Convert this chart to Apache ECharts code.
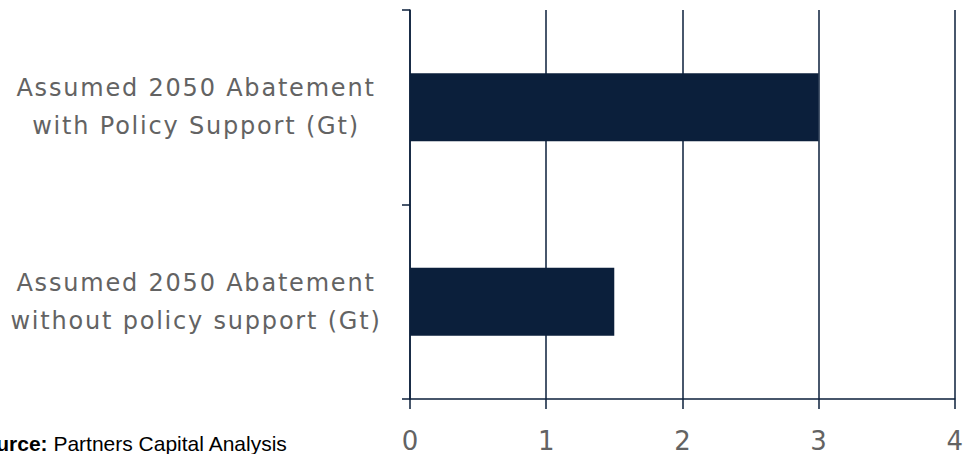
<!DOCTYPE html>
<html>
<head>
<meta charset="utf-8">
<script src="https://cdn.jsdelivr.net/npm/echarts@6/dist/echarts.min.js"></script>
<style>
  html, body { margin: 0; padding: 0; background: #ffffff; overflow: hidden; }
  #chart { width: 967px; height: 454px; }
  /* slightly open tracking for the category and tick labels */
  #chart svg text[style*="DejaVu Sans"] { letter-spacing: 1.8px; }
</style>
</head>
<body>
<div id="chart"></div>
<script>
// Abatement scenarios (Gt CO2e in 2050)
const categories = [
  'Assumed 2050 Abatement\nwith Policy Support (Gt)',
  'Assumed 2050 Abatement\nwithout policy support (Gt)'
];
const abatementValues = [3, 1.5];
const xTicks = { min: 0, max: 4, interval: 1 };
const sourceNote = { label: 'Source:', text: ' Partners Capital Analysis' };

const navy = '#0b1f3b';
const grey = '#636363';
const labelFont = 'DejaVu Sans';

const chart = echarts.init(document.getElementById('chart'), null, { renderer: 'svg' });

chart.setOption({
  animation: false,
  backgroundColor: '#ffffff',
  grid: { left: 410, right: 6, top: 10, bottom: 53, containLabel: false },
  xAxis: {
    type: 'value',
    min: xTicks.min,
    max: xTicks.max,
    interval: xTicks.interval,
    axisLine: { show: true, lineStyle: { color: navy, width: 1.5 } },
    axisTick: { show: true, length: 10, lineStyle: { color: navy, width: 1.5 } },
    splitLine: { show: true, lineStyle: { color: navy, width: 1.5 } },
    axisLabel: {
      color: grey, fontSize: 26, fontFamily: labelFont,
      margin: 32, lineHeight: 20, padding: [0, 0, 0, 2]
    }
  },
  yAxis: {
    type: 'category',
    inverse: true,
    data: categories,
    axisLine: { show: true, lineStyle: { color: navy, width: 1.5 } },
    axisTick: { show: true, length: 8, lineStyle: { color: navy, width: 1.5 } },
    axisLabel: {
      color: grey, fontSize: 24, fontFamily: labelFont,
      align: 'center', margin: 214, lineHeight: 38
    }
  },
  series: [{
    type: 'bar',
    data: abatementValues,
    barWidth: '35%',
    itemStyle: { color: navy },
    silent: true
  }],
  graphic: [{
    type: 'text',
    right: 967 - 288,
    top: 433,
    style: {
      text: '{b|' + sourceNote.label + '}{n|' + sourceNote.text + '}',
      rich: {
        b: { fontWeight: 'bold', fontSize: 21, fill: '#000', fontFamily: 'Liberation Sans' },
        n: { fontSize: 21, fill: '#000', fontFamily: 'Liberation Sans' }
      }
    }
  }]
});
</script>
</body>
</html>
